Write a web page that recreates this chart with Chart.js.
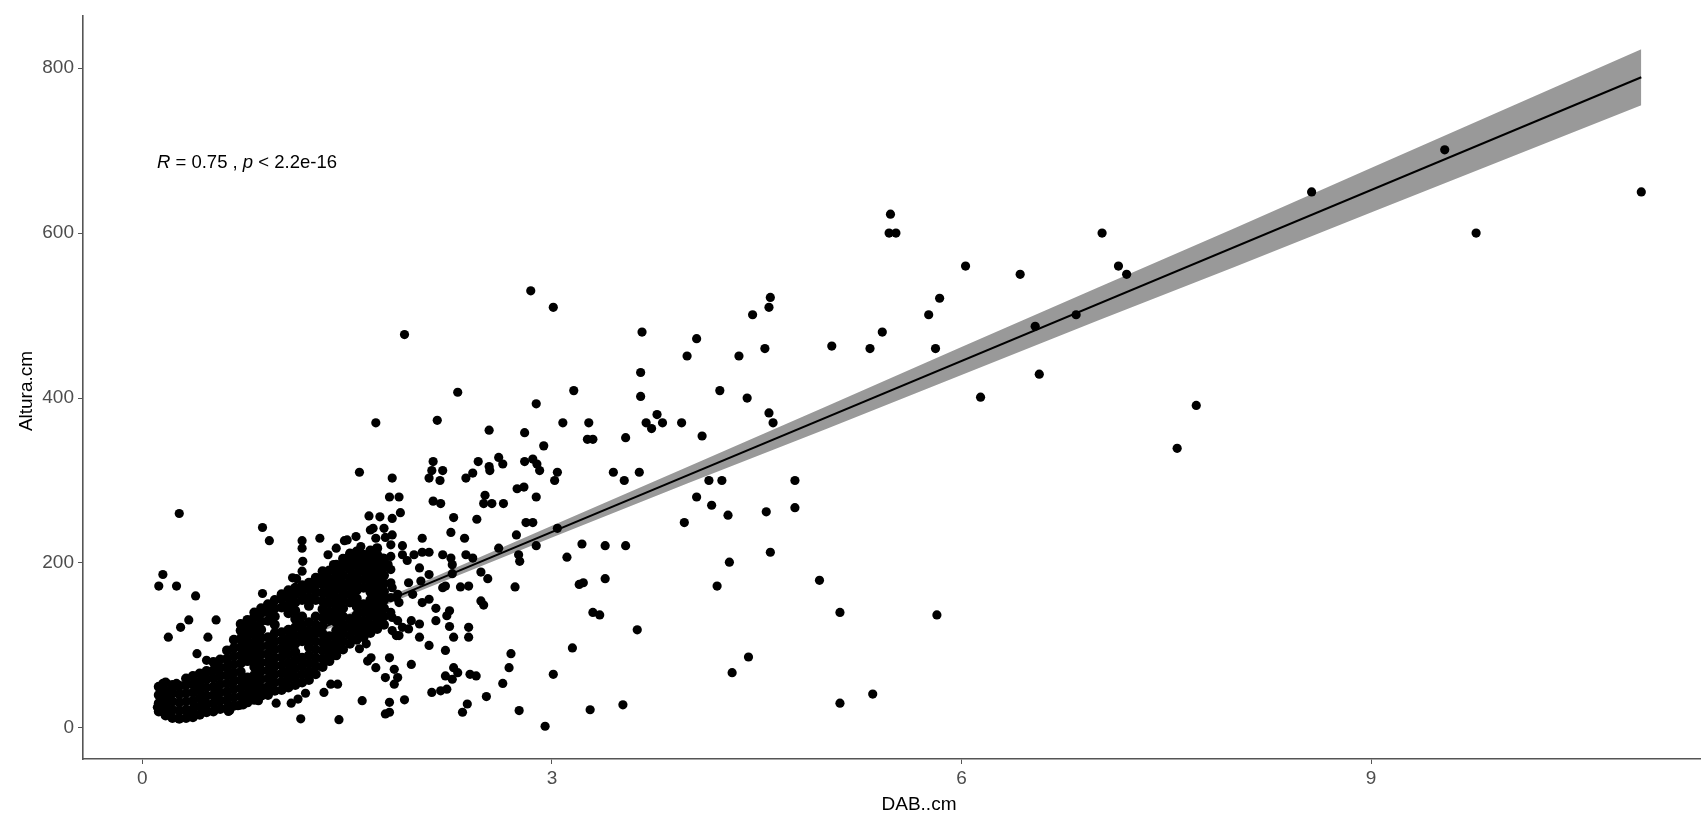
<!DOCTYPE html>
<html lang="en">
<head>
    <meta charset="UTF-8">
    <title>Altura.cm vs DAB..cm</title>
    <script src="https://cdn.jsdelivr.net/npm/chart.js"></script>
    <style>
        body {
            margin: 0;
            padding: 0;
            background-color: #fff;
        }
        .chart-container {
            width: 1705px;
            height: 817px;
            position: relative;
        }
    </style>
</head>
<body>
    <div class="chart-container">
        <canvas id="scatterCanvas"></canvas>
    </div>

    <script>
        // Axis ticks
        const xTicks = [0, 3, 6, 9];
        const yTicks = [0, 200, 400, 600, 800];

        // Dense core of the cloud, by column: [DAB, [Altura...]]
        const denseCore = [
            [0.12, [20, 30, 40, 50]],
            [0.17, [15, 25, 35, 45, 55]],
            [0.22, [12, 22, 32, 42, 52]],
            [0.27, [11, 21, 31, 41, 51]],
            [0.32, [12, 22, 32, 42, 52, 60]],
            [0.37, [13, 23, 33, 43, 53, 63]],
            [0.42, [16, 26, 36, 46, 56, 66]],
            [0.47, [19, 29, 39, 49, 59, 69]],
            [0.52, [20, 30, 40, 50, 60, 70, 80]],
            [0.57, [23, 33, 43, 53, 63, 73, 83]],
            [0.62, [24, 34, 44, 54, 64, 74, 84, 94]],
            [0.67, [27, 37, 47, 57, 67, 77, 87, 97, 107]],
            [0.72, [28, 38, 48, 58, 68, 78, 88, 98, 108, 118, 126]],
            [0.77, [31, 41, 51, 61, 81, 91, 101, 111, 121, 131]],
            [0.82, [34, 44, 54, 64, 74, 84, 94, 104, 114, 124, 134, 140]],
            [0.87, [39, 49, 59, 69, 79, 89, 99, 109, 119, 129, 139, 145]],
            [0.92, [40, 50, 60, 70, 80, 90, 100, 110, 130, 140, 150]],
            [0.97, [45, 55, 65, 75, 85, 95, 105, 115, 125, 135, 145, 155]],
            [1.02, [46, 56, 66, 76, 86, 96, 106, 116, 146, 156, 162]],
            [1.07, [49, 59, 69, 79, 89, 99, 109, 119, 139, 149, 159, 167]],
            [1.12, [52, 62, 72, 82, 92, 102, 112, 122, 132, 142, 152, 162, 170]],
            [1.17, [55, 65, 75, 85, 105, 115, 125, 135, 155, 165, 173]],
            [1.22, [58, 68, 78, 88, 98, 108, 118, 128, 148, 158, 168, 176]],
            [1.27, [65, 75, 85, 95, 105, 115, 125, 135, 155, 165, 175, 182]],
            [1.32, [74, 84, 94, 104, 114, 124, 134, 144, 154, 164, 174, 184, 190]],
            [1.37, [81, 91, 101, 111, 131, 141, 151, 161, 171, 181, 191]],
            [1.42, [88, 98, 108, 118, 128, 138, 148, 158, 168, 178, 188, 198]],
            [1.47, [95, 105, 115, 125, 135, 145, 155, 165, 175, 185, 195, 205]],
            [1.52, [102, 112, 122, 132, 152, 162, 172, 182, 192, 202, 210]],
            [1.57, [107, 117, 127, 137, 147, 157, 167, 177, 187, 197, 207, 214]],
            [1.62, [110, 120, 130, 140, 150, 170, 180, 190, 200, 210]],
            [1.67, [115, 125, 135, 145, 155, 165, 175, 185, 195, 205, 215]],
            [1.72, [120, 130, 140, 150, 160, 170, 180, 190, 200, 210, 218]],
            [1.77, [125, 135, 145, 155, 165, 175, 185, 195, 205]]
        ];

        // Loose points around the core (x < 1.8)
        const scatterLeft = [
            [0.88, 243], [0.93, 227], [1.17, 227], [1.30, 230], [1.48, 227], [1.50, 228], [1.565, 232],
            [1.67, 240], [1.71, 230], [1.78, 231], [0.15, 186], [0.12, 172], [0.25, 172], [0.39, 160],
            [0.88, 163], [0.54, 131], [0.34, 131], [0.28, 122], [0.19, 110], [0.48, 110], [0.40, 90],
            [0.47, 82], [0.11, 25], [0.15, 54], [0.25, 54], [1.16, 11], [1.44, 10], [1.17, 218],
            [1.175, 202], [1.17, 190], [1.10, 182], [1.13, 181], [1.26, 176], [1.32, 182], [1.35, 181],
            [1.36, 210], [1.42, 218], [1.40, 198], [1.44, 184], [1.52, 212], [1.60, 220], [1.61, 208],
            [1.53, 198], [1.59, 194], [1.565, 180], [1.70, 210], [1.71, 192], [1.76, 206], [1.80, 198],
            [1.66, 170], [1.72, 174], [1.76, 160], [1.61, 33], [1.59, 96], [1.64, 102], [1.675, 85],
            [1.65, 81], [1.71, 73], [1.78, 61], [1.78, 17], [1.33, 43], [1.38, 53], [1.43, 53],
            [0.98, 30], [1.09, 30], [0.64, 21], [0.70, 27], [1.14, 35], [1.195, 42], [0.63, 20],
            [0.74, 28], [0.85, 33], [0.91, 41], [0.47, 22], [0.53, 23], [0.20, 17], [0.35, 15],
            [1.71, 370], [1.59, 310], [0.27, 260], [1.66, 257], [1.74, 256]
        ];

        // 1.8 <= x < 2.6
        const scatterMid = [
            [1.92, 477], [2.31, 407], [2.16, 373], [2.54, 361], [2.13, 323], [2.12, 312], [2.20, 312],
            [2.10, 303], [2.18, 300], [1.83, 303], [2.46, 323], [2.37, 303], [2.42, 309], [2.54, 317],
            [2.545, 312], [1.81, 280], [1.88, 280], [1.89, 261], [2.13, 275], [2.185, 272], [2.51, 282],
            [2.50, 272], [2.56, 272], [2.28, 255], [2.45, 253], [1.83, 254],
            [1.83, 234], [2.05, 230], [2.26, 237], [2.36, 230], [1.905, 221], [1.905, 210], [1.94, 203],
            [1.99, 210], [2.05, 213], [2.10, 213], [2.20, 210], [2.26, 206], [2.27, 198], [2.37, 210],
            [2.42, 206], [2.03, 194], [2.10, 186], [1.95, 176], [2.04, 178], [2.48, 189], [2.53, 181],
            [2.20, 170], [2.22, 172], [2.33, 171], [2.39, 172], [1.98, 162], [2.05, 152], [2.10, 156],
            [2.15, 145], [2.48, 154], [2.50, 149], [2.25, 142], [2.23, 136], [1.86, 158], [1.88, 152],
            [1.83, 134], [1.87, 130], [1.905, 122], [1.83, 118], [1.86, 112], [1.88, 112], [2.03, 110],
            [2.10, 100], [2.22, 94], [2.39, 122], [2.39, 110], [1.81, 85], [1.845, 71], [1.87, 61],
            [1.845, 53], [1.97, 77], [1.81, 31], [1.92, 34], [1.81, 19], [2.12, 43], [2.185, 45],
            [2.23, 47], [2.22, 63], [2.28, 73], [2.31, 67], [2.27, 59], [2.40, 65], [2.445, 63],
            [2.38, 29], [2.345, 19], [2.52, 38], [2.27, 187], [2.15, 130], [2.25, 123], [2.03, 126],
            [2.28, 110], [1.97, 130], [1.95, 120], [1.83, 170], [1.87, 162], [1.77, 242], [1.69, 242],
            [1.82, 140], [1.82, 158], [1.82, 176], [1.82, 192], [1.82, 208], [1.82, 222]
        ];

        // 2.6 <= x < 5
        const scatterWide = [
            [2.845, 530], [3.01, 510], [3.16, 409], [2.885, 393], [3.08, 370], [3.27, 370], [2.80, 358],
            [2.94, 342], [3.26, 350], [3.30, 350], [3.54, 352], [2.61, 328], [2.64, 320], [2.80, 323],
            [2.86, 326], [2.89, 320], [2.91, 312], [3.04, 310], [3.02, 300], [3.45, 310], [3.53, 300],
            [3.64, 310], [2.745, 290], [2.795, 292], [2.645, 272], [2.885, 280], [2.81, 249], [2.86, 249],
            [2.74, 234], [3.04, 242], [2.61, 218], [2.756, 210], [2.764, 202], [2.885, 221], [3.11, 207],
            [3.22, 223], [3.39, 221], [3.54, 221], [2.73, 171], [3.20, 174], [3.23, 176], [3.39, 181],
            [3.30, 140], [3.35, 137], [3.15, 97], [2.70, 90], [2.686, 73], [2.64, 54], [3.01, 65],
            [2.76, 21], [2.95, 2], [3.28, 22], [3.52, 28],
            [4.60, 522], [4.59, 510], [4.47, 501], [3.66, 480], [4.06, 472], [3.99, 451], [4.37, 451],
            [4.56, 460], [3.65, 431], [3.65, 402], [4.23, 409], [4.43, 400], [4.59, 382], [4.62, 370],
            [3.77, 380], [3.69, 370], [3.73, 363], [3.81, 370], [3.95, 370], [4.10, 354],
            [3.97, 249], [4.06, 280], [4.15, 300], [4.245, 300], [4.17, 270], [4.29, 258], [4.57, 262],
            [4.78, 300], [4.78, 267], [4.60, 213], [4.30, 201], [4.21, 172], [4.44, 86], [4.32, 67],
            [3.625, 119]
        ];

        // x >= 5
        const scatterRight = [
            [8.565, 650], [9.54, 701], [9.77, 600], [10.98, 650], [7.72, 391], [7.58, 339],
            [5.48, 623], [5.47, 600], [5.52, 600], [7.03, 600], [6.03, 560], [6.43, 550], [7.15, 560],
            [7.21, 550], [5.84, 521], [5.76, 501], [5.42, 480], [5.05, 463], [5.33, 460], [5.81, 460],
            [6.54, 487], [6.84, 501], [6.57, 429], [6.14, 401], [5.82, 137], [5.11, 140], [5.11, 30],
            [5.35, 41], [4.96, 179]
        ];

        // Regression line and its confidence band
        const fitX = [0.11, 10.98];
        const fitY = [38, 789];
        const bandX = [0.11, 1.2, 2, 3, 4, 5, 6, 7, 8, 9, 10.98];
        const bandUpper = [44, 117, 173, 245, 317, 389, 462, 534, 606, 679, 823];
        const bandLower = [32, 109, 164, 231, 297, 362, 428, 494, 559, 625, 755];

        // Build point lists for the scatter datasets
        const corePoints = [];
        denseCore.forEach(col => {
            col[1].forEach(y => corePoints.push({ x: col[0], y: y }));
        });
        const points = [];
        [scatterLeft, scatterMid, scatterWide, scatterRight].forEach(group => {
            group.forEach(p => points.push({ x: p[0], y: p[1] }));
        });

        const toXY = (xs, ys) => xs.map((x, i) => ({ x: x, y: ys[i] }));

        const tickFont = { family: "'Liberation Sans', Arial, sans-serif", size: 19 };
        const axisGrey = '#555555';

        // Axis titles and the R / p annotation
        const labelsPlugin = {
            id: 'labels',
            afterDraw(chart) {
                const c = chart.ctx;
                const family = "'Liberation Sans', Arial, sans-serif";
                c.save();
                c.fillStyle = '#000';
                c.textBaseline = 'middle';
                c.textAlign = 'center';
                c.font = '19px ' + family;
                c.fillText('DAB..cm', 919, 805);
                c.save();
                c.translate(27, 391);
                c.rotate(-Math.PI / 2);
                c.fillText('Altura.cm', 0, 0);
                c.restore();

                // R = 0.75 , p < 2.2e-16
                const parts = [
                    ['R', true], [' = 0.75 , ', false], ['p', true], [' < 2.2e-16', false]
                ];
                let x = 157;
                c.textAlign = 'left';
                parts.forEach(part => {
                    c.font = (part[1] ? 'italic ' : '') + '18.5px ' + family;
                    c.fillText(part[0], x, 163);
                    x += c.measureText(part[0]).width;
                });
                c.restore();
            }
        };

        const ctx = document.getElementById('scatterCanvas').getContext('2d');
        const scatterChart = new Chart(ctx, {
            type: 'scatter',
            data: {
                datasets: [
                    {
                        label: 'fit',
                        data: toXY(fitX, fitY),
                        showLine: true,
                        borderColor: '#000',
                        borderWidth: 2,
                        pointRadius: 0,
                        order: 0
                    },
                    {
                        label: 'Altura.cm',
                        data: points,
                        backgroundColor: '#000',
                        borderWidth: 0,
                        pointRadius: 4.6,
                        order: 1
                    },
                    {
                        label: 'Altura.cm (core)',
                        data: corePoints,
                        backgroundColor: '#000',
                        borderWidth: 0,
                        pointRadius: 5,
                        order: 1
                    },
                    {
                        label: 'lower',
                        data: toXY(bandX, bandLower),
                        showLine: true,
                        borderWidth: 0,
                        borderColor: 'rgba(0,0,0,0)',
                        pointRadius: 0,
                        fill: false,
                        order: 3
                    },
                    {
                        label: 'upper',
                        data: toXY(bandX, bandUpper),
                        showLine: true,
                        borderWidth: 0,
                        borderColor: 'rgba(0,0,0,0)',
                        backgroundColor: '#999999',
                        pointRadius: 0,
                        fill: 3,
                        order: 2
                    }
                ]
            },
            options: {
                responsive: true,
                maintainAspectRatio: false,
                animation: false,
                layout: {
                    padding: { top: 10, right: 0, left: 0, bottom: 0 }
                },
                plugins: {
                    legend: { display: false },
                    tooltip: { enabled: false }
                },
                scales: {
                    x: {
                        type: 'linear',
                        min: -0.435,
                        max: 11.41,
                        afterBuildTicks: s => { s.ticks = xTicks.map(v => ({ value: v })); },
                        afterFit: s => { s.height = 58; },
                        grid: { drawOnChartArea: false, drawTicks: true, tickLength: 5, color: axisGrey },
                        border: { display: true, color: axisGrey, width: 1.6 },
                        ticks: { color: '#4d4d4d', font: tickFont, padding: 3, maxRotation: 0 }
                    },
                    y: {
                        type: 'linear',
                        min: -37.7,
                        max: 864,
                        afterBuildTicks: s => { s.ticks = yTicks.map(v => ({ value: v })); },
                        afterFit: s => { s.width = 83; },
                        grid: { drawOnChartArea: false, drawTicks: true, tickLength: 5, color: axisGrey },
                        border: { display: true, color: axisGrey, width: 1.6 },
                        ticks: { color: '#4d4d4d', font: tickFont, padding: 4 }
                    }
                }
            },
            plugins: [labelsPlugin]
        });
    </script>
</body>
</html>
